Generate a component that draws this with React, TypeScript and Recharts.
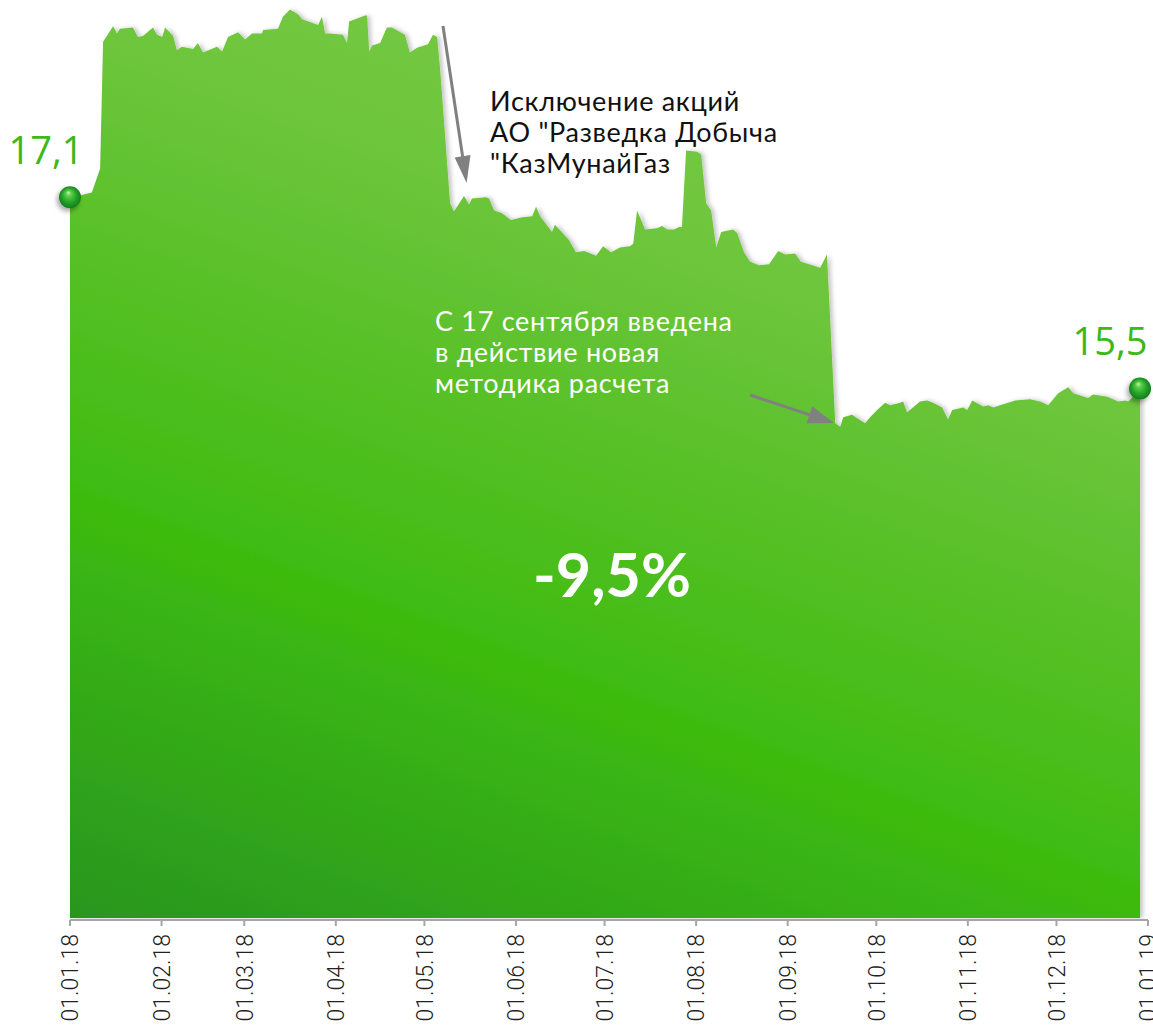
import React from 'react';
import { AreaChart, Area, XAxis, YAxis } from 'recharts';

// days since 01.01.18 and index level
const tradingDays = [
  0, 4.4, 7.4, 10.2, 11.2, 14.6, 15.9, 16.9, 21.3, 23.0, 24.7, 28.1, 29.5, 31.2, 32.2, 34.9,
  36.2, 37.9, 41.7, 43.3, 45.0, 49.8, 51.5, 53.5, 56.9, 59.3, 61.6, 65.0, 65.4, 70.4, 72.1,
  74.5, 77.2, 78.6, 84.0, 85.3, 86.4, 88.0, 92.4, 93.8, 94.5, 99.9, 100.6, 101.3, 102.3,
  105.0, 107.3, 109.0, 113.4, 115.1, 117.5, 121.2, 122.9, 124.3, 125.3, 128.7, 130.0, 133.4,
  135.1, 136.1, 140.9, 141.9, 143.6, 146.0, 149.3, 152.7, 156.5, 157.8, 159.2, 163.2, 164.2,
  169.0, 171.3, 174.1, 178.1, 180.5, 183.2, 186.2, 189.6, 190.7, 192.0, 193.7, 194.7, 198.8,
  200.5, 202.2, 204.5, 206.2, 207.2, 208.6, 212.3, 213.7, 215.4, 217.1, 218.8, 220.5, 224.5,
  225.9, 228.2, 230.3, 233.3, 236.7, 239.8, 242.1, 245.5, 247.5, 254.0, 256.3, 259.1, 260.8,
  261.8, 264.8, 266.5, 269.2, 270.9, 273.3, 276.0, 277.7, 281.1, 282.1, 283.4, 287.8, 290.2,
  292.2, 295.3, 297.3, 298.7, 302.4, 303.8, 305.5, 309.2, 310.9, 312.6, 314.9, 319.0, 320.0,
  325.1, 328.5, 331.2, 334.6, 338.0, 339.7, 344.7, 346.4, 351.2, 354.9, 357.3, 358.3, 360.0,
  362.3,
];

const indexValues = [
  17.10, 17.12, 17.14, 17.34, 18.40, 18.53, 18.47, 18.51, 18.52, 18.44, 18.45, 18.52, 18.46,
  18.44, 18.52, 18.45, 18.33, 18.36, 18.34, 18.39, 18.31, 18.36, 18.32, 18.44, 18.48, 18.42,
  18.47, 18.47, 18.50, 18.51, 18.61, 18.67, 18.63, 18.59, 18.54, 18.61, 18.47, 18.47, 18.46,
  18.39, 18.57, 18.62, 18.62, 18.32, 18.37, 18.39, 18.52, 18.52, 18.46, 18.31, 18.35, 18.38,
  18.46, 18.44, 18.18, 17.05, 16.98, 17.11, 17.04, 17.09, 17.10, 17.09, 16.99, 16.97, 16.91,
  16.93, 16.94, 17.02, 16.94, 16.81, 16.87, 16.74, 16.64, 16.65, 16.61, 16.69, 16.64, 16.68,
  16.69, 16.71, 16.99, 16.89, 16.83, 16.84, 16.86, 16.83, 16.83, 16.85, 16.85, 17.49, 17.48,
  17.46, 17.05, 16.99, 16.68, 16.81, 16.83, 16.80, 16.64, 16.56, 16.53, 16.54, 16.65, 16.62,
  16.63, 16.56, 16.51, 16.62, 15.21, 15.18, 15.26, 15.28, 15.25, 15.21, 15.26, 15.32, 15.38,
  15.36, 15.38, 15.39, 15.30, 15.39, 15.40, 15.38, 15.34, 15.24, 15.32, 15.34, 15.32, 15.40,
  15.35, 15.36, 15.34, 15.36, 15.39, 15.40, 15.41, 15.39, 15.36, 15.46, 15.51, 15.46, 15.42,
  15.45, 15.43, 15.39, 15.40, 15.39, 15.43, 15.50,
];

const monthTicks = [0, 31, 59, 90, 120, 151, 181, 212, 243, 273, 304, 334, 365];
const monthLabels = [
  '01.01.18', '01.02.18', '01.03.18', '01.04.18', '01.05.18', '01.06.18', '01.07.18',
  '01.08.18', '01.09.18', '01.10.18', '01.11.18', '01.12.18', '01.01.19',
];

const firstValueLabel = '17,1';
const lastValueLabel = '15,5';
const changeLabel = '-9,5%';
const exclusionNote = ['Исключение акций', 'АО "Разведка Добыча', '"КазМунайГаз'];
const methodNote = ['С 17 сентября введена', 'в действие новая', 'методика расчета'];

const chartData = tradingDays.map((day, i) => ({ day, value: indexValues[i] }));

const GREEN_TEXT = '#3cb819';

const MonthTick = (props: any) => {
  const { x, y, payload } = props;
  const label = monthLabels[monthTicks.indexOf(payload.value)];
  return (
    <g transform={`translate(${x},${y})`}>
      <text
        transform="rotate(-90)"
        x={-8}
        y={0}
        dy="0.36em"
        textAnchor="end"
        fontFamily="Roboto"
        fontWeight={300}
        fontSize={23}
        fill="#222"
      >
        {label}
      </text>
    </g>
  );
};

const renderEndDot = (props: any) => {
  const { cx, cy, index } = props;
  const last = chartData.length - 1;
  if (index !== 0 && index !== last) return <g key={`dot-${index}`} />;
  const text = index === 0 ? firstValueLabel : lastValueLabel;
  const dx = index === 0 ? -24 : -30;
  return (
    <g key={`dot-${index}`}>
      <circle cx={cx} cy={cy} r={11} fill="url(#ballFill)" filter="url(#ballShadow)" />
      <text
        x={cx + dx}
        y={cy - 33}
        textAnchor="middle"
        fontFamily="Open Sans"
        fontSize={38}
        fill={GREEN_TEXT}
      >
        {text}
      </text>
    </g>
  );
};

const Arrow = ({ x1, y1, x2, y2, head = 27, half = 8 }: any) => {
  const len = Math.hypot(x2 - x1, y2 - y1);
  const ux = (x2 - x1) / len;
  const uy = (y2 - y1) / len;
  const bx = x2 - ux * head;
  const by = y2 - uy * head;
  const px = -uy * half;
  const py = ux * half;
  return (
    <g>
      <line x1={x1} y1={y1} x2={bx + ux * 2} y2={by + uy * 2} stroke="#808080" strokeWidth={3} />
      <polygon points={`${x2},${y2} ${bx + px},${by + py} ${bx - px},${by - py}`} fill="#808080" />
    </g>
  );
};

export default function App() {
  return (
    <div style={{ position: 'absolute', left: 0, top: 0, width: 1153, height: 1031, background: '#fff' }}>
      <AreaChart
        width={1153}
        height={1031}
        data={chartData}
        margin={{ top: 6, right: 5, bottom: 0, left: 70 }}
      >
        <defs>
          <linearGradient id="areaFill" gradientUnits="userSpaceOnUse" x1="70" y1="918" x2="499" y2="-230">
            <stop offset="0" stopColor="#289620" />
            <stop offset="0.32" stopColor="#3dbb10" />
            <stop offset="0.67" stopColor="#6cc53a" />
            <stop offset="1" stopColor="#82cd4c" />
          </linearGradient>
          <filter id="areaShadow" x="-5%" y="-5%" width="110%" height="110%">
            <feDropShadow dx="3" dy="0" stdDeviation="2" floodColor="#000" floodOpacity="0.22" />
          </filter>
          <radialGradient id="ballFill" cx="50%" cy="50%" r="55%" fx="42%" fy="28%">
            <stop offset="0" stopColor="#c8f5b4" />
            <stop offset="0.22" stopColor="#5ccf48" />
            <stop offset="0.62" stopColor="#22a029" />
            <stop offset="1" stopColor="#12761a" />
          </radialGradient>
          <filter id="ballShadow" x="-60%" y="-60%" width="220%" height="220%">
            <feDropShadow dx="-2" dy="3" stdDeviation="2.5" floodColor="#000" floodOpacity="0.35" />
          </filter>
        </defs>
        <XAxis
          dataKey="day"
          type="number"
          domain={[0, 365]}
          ticks={monthTicks}
          interval={0}
          height={111}
          tickSize={6}
          tickMargin={0}
          axisLine={{ stroke: '#a6a6a6', strokeWidth: 2 }}
          tickLine={{ stroke: '#a6a6a6', strokeWidth: 2 }}
          tick={<MonthTick />}
        />
        <YAxis hide domain={[11.053, 18.7]} allowDataOverflow />
        <Area
          type="linear"
          dataKey="value"
          baseValue={11.07}
          stroke="none"
          fill="url(#areaFill)"
          fillOpacity={1}
          filter="url(#areaShadow)"
          dot={renderEndDot}
          activeDot={false}
          isAnimationActive={false}
        />
      </AreaChart>
      <svg
        width={1153}
        height={1031}
        style={{ position: 'absolute', left: 0, top: 0, pointerEvents: 'none' }}
      >
        <Arrow x1={443} y1={26} x2={466.6} y2={183} head={27} half={8} />
        <Arrow x1={750} y1={395} x2={834} y2={423} head={26} half={9} />
        <text fontFamily="Lato" fontSize={27} letterSpacing={0.7} fill="#111">
          {exclusionNote.map((line, i) => (
            <tspan key={line} x={490} y={111 + i * 31}>
              {line}
            </tspan>
          ))}
        </text>
        <text fontFamily="Lato" fontSize={27} letterSpacing={0.7} fill="#fff">
          {methodNote.map((line, i) => (
            <tspan key={line} x={435} y={331 + i * 31}>
              {line}
            </tspan>
          ))}
        </text>
        <text x={612} y={597} textAnchor="middle" fontFamily="Lato" fontWeight={700} fontSize={61} fill="#fff">
          {changeLabel}
        </text>
      </svg>
    </div>
  );
}
